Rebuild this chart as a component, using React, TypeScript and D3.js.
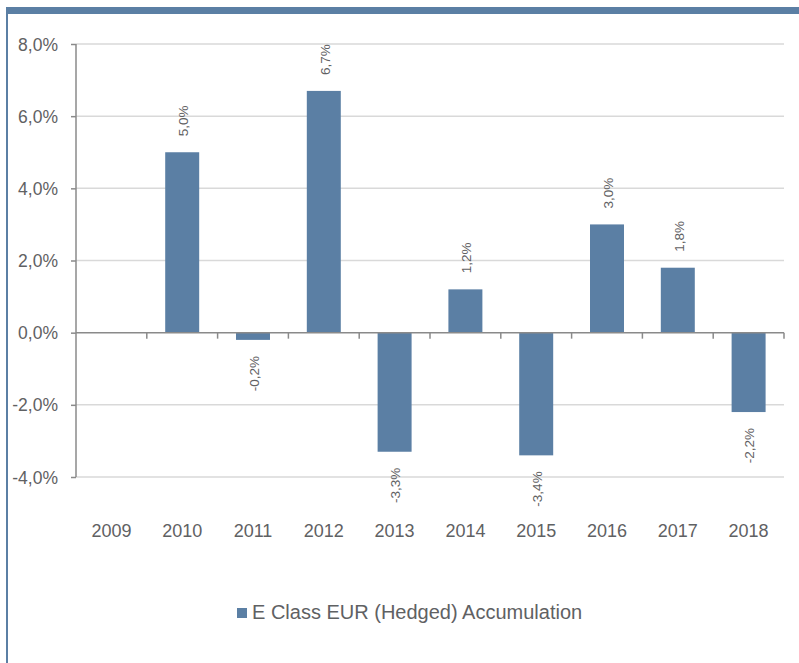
import React, { useEffect, useRef } from "react";
import * as d3 from "d3";

const years = ["2009", "2010", "2011", "2012", "2013", "2014", "2015", "2016", "2017", "2018"];
const returns: (number | null)[] = [null, 5.0, -0.2, 6.7, -3.3, 1.2, -3.4, 3.0, 1.8, -2.2];
const yTicks = [-4, -2, 0, 2, 4, 6, 8];
const seriesName = "E Class EUR (Hedged) Accumulation";

const W = 799;
const H = 663;
const BLUE = "#5b7fa4";
const TEXT = "#5f6163";

const fmt = (v: number) => v.toFixed(1).replace(".", ",") + "%";

export default function App() {
  const ref = useRef<SVGSVGElement>(null);

  useEffect(() => {
    const svg = d3.select(ref.current);
    svg.selectAll("*").remove();

    const left = 76, right = 784, top = 44, bottom = 477;

    const x = d3.scaleBand().domain(years).range([left, right]).paddingInner(0.52).paddingOuter(0.26);
    const y = d3.scaleLinear().domain([-4, 8]).range([bottom, top]);
    const step = (right - left) / years.length;

    // frame
    svg.append("rect").attr("x", 6).attr("y", 7).attr("width", W - 6).attr("height", 7).attr("fill", BLUE);
    svg.append("rect").attr("x", 6).attr("y", 7).attr("width", 2).attr("height", H - 7).attr("fill", BLUE);

    // gridlines
    svg.append("g")
      .selectAll("line")
      .data(yTicks.filter((t) => t !== 0))
      .join("line")
      .attr("x1", left).attr("x2", right)
      .attr("y1", (d) => y(d)).attr("y2", (d) => y(d))
      .attr("stroke", "#d9d9d9").attr("stroke-width", 1.5);

    // y axis
    const yAxis = svg.append("g").attr("transform", `translate(${left},0)`)
      .call(d3.axisLeft(y).tickValues(yTicks).tickSize(5).tickFormat((d) => fmt(+d)));
    yAxis.select(".domain").attr("stroke", "#8a8a8a").attr("stroke-width", 1.5).attr("d", `M0,${top}V${bottom}`);
    yAxis.selectAll(".tick line").attr("stroke", "#8a8a8a").attr("stroke-width", 1.5);
    yAxis.selectAll(".tick text")
      .attr("x", -18).attr("dy", "0.35em")
      .attr("fill", TEXT).attr("font-size", 17.5).attr("font-family", "Liberation Sans, Arial, sans-serif");

    // bars
    const data = years.map((yr, i) => ({ yr, v: returns[i] })).filter((d) => d.v !== null) as { yr: string; v: number }[];
    svg.append("g")
      .selectAll("rect")
      .data(data)
      .join("rect")
      .attr("x", (d) => x(d.yr)!)
      .attr("width", x.bandwidth())
      .attr("y", (d) => y(Math.max(0, d.v)))
      .attr("height", (d) => Math.abs(y(d.v) - y(0)))
      .attr("fill", BLUE);

    // zero axis with boundary ticks
    const zero = y(0);
    svg.append("line").attr("x1", left).attr("x2", right).attr("y1", zero).attr("y2", zero)
      .attr("stroke", "#8a8a8a").attr("stroke-width", 1.5);
    svg.append("g")
      .selectAll("line")
      .data(d3.range(1, years.length + 1))
      .join("line")
      .attr("x1", (i) => left + i * step).attr("x2", (i) => left + i * step)
      .attr("y1", zero).attr("y2", zero + 6)
      .attr("stroke", "#8a8a8a").attr("stroke-width", 1.5);

    // data labels
    svg.append("g")
      .selectAll("text")
      .data(data)
      .join("text")
      .attr("transform", (d) => {
        const cx = x(d.yr)! + x.bandwidth() / 2 + 1;
        const cy = d.v >= 0 ? y(d.v) - 16 : y(d.v) + 16;
        return `translate(${cx},${cy}) rotate(-90)`;
      })
      .attr("text-anchor", (d) => (d.v >= 0 ? "start" : "end"))
      .attr("dy", "0.35em")
      .attr("fill", TEXT)
      .attr("font-size", 13.5)
      .attr("font-family", "Liberation Sans, Arial, sans-serif")
      .text((d) => fmt(d.v));

    // x labels
    svg.append("g")
      .selectAll("text")
      .data(years)
      .join("text")
      .attr("x", (d) => x(d)! + x.bandwidth() / 2)
      .attr("y", 537)
      .attr("text-anchor", "middle")
      .attr("fill", TEXT)
      .attr("font-size", 18)
      .attr("font-family", "Liberation Sans, Arial, sans-serif")
      .text((d) => d);

    // legend
    const lg = svg.append("g").attr("transform", "translate(237,608)");
    lg.append("rect").attr("width", 10).attr("height", 10).attr("fill", BLUE);
    lg.append("text").attr("x", 15).attr("y", 11)
      .attr("fill", TEXT).attr("font-size", 20)
      .attr("font-family", "Liberation Sans, Arial, sans-serif")
      .text(seriesName);
  }, []);

  return (
    <svg
      ref={ref}
      width={W}
      height={H}
      style={{ position: "absolute", left: 0, top: 0, background: "#fff", display: "block" }}
    />
  );
}
